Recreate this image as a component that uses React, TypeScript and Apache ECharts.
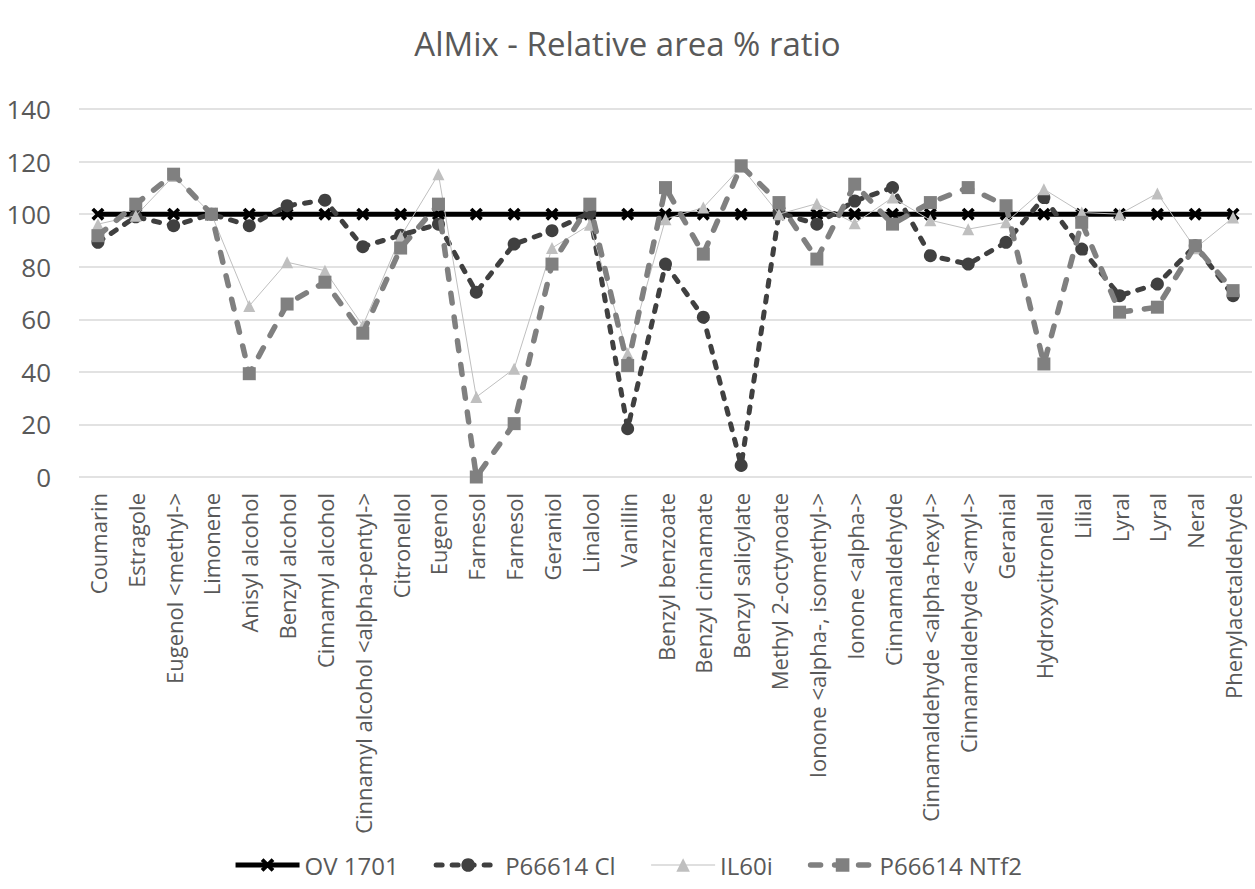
import { useEffect, useRef } from "react";
import * as echarts from "echarts";

const categories = [
  "Coumarin", "Estragole", "Eugenol <methyl->", "Limonene", "Anisyl alcohol",
  "Benzyl alcohol", "Cinnamyl alcohol", "Cinnamyl alcohol <alpha-pentyl->", "Citronellol", "Eugenol",
  "Farnesol", "Farnesol", "Geraniol", "Linalool", "Vanillin",
  "Benzyl benzoate", "Benzyl cinnamate", "Benzyl salicylate", "Methyl 2-octynoate", "Ionone <alpha-, isomethyl->",
  "Ionone <alpha->", "Cinnamaldehyde", "Cinnamaldehyde <alpha-hexyl->", "Cinnamaldehyde <amyl->", "Geranial",
  "Hydroxycitronellal", "Lilial", "Lyral", "Lyral", "Neral",
  "Phenylacetaldehyde",
];

const ov1701 = [
  100, 100, 100, 100, 100, 100, 100, 100, 100, 100,
  100, 100, 100, 100, 100, 100, 100, 100, 100, 100,
  100, 100, 100, 100, 100, 100, 100, 100, 100, 100,
  100,
];

const p66614Cl = [
  89.3, 99, 95.6, 100, 95.6, 103.2, 105.3, 87.6, 92, 96.2,
  70.3, 88.6, 93.7, 100.5, 18.4, 81, 60.8, 4.4, 100.5, 96.2,
  105, 110.1, 84.2, 81, 89.3, 106.3, 86.7, 69, 73.4, 88,
  69,
];

const il60i = [
  96.2, 99.4, 114.5, 100, 65.1, 81.7, 78.5, 57.6, 91.4, 115.2,
  30.4, 41.2, 87.1, 96, 47, 98.1, 102.5, 118, 100, 104,
  96.5, 106.3, 97.7, 94.3, 96.9, 109.5, 100.6, 100, 107.9, 87,
  98.7,
];

const p66614NTf2 = [
  91.8, 103.8, 115.2, 100, 39.3, 65.8, 74.1, 54.7, 87.1, 103.8,
  0, 20.3, 81, 103.8, 42.4, 110.1, 84.8, 118.4, 104.4, 82.9,
  111.4, 96.2, 104.4, 110.1, 103.2, 43, 96.9, 62.7, 64.6, 88,
  70.9,
];

const FONT = "'Open Sans', sans-serif";
const CROSS = "path://M0,2 L2,0 L5,3 L8,0 L10,2 L7,5 L10,8 L8,10 L5,7 L2,10 L0,8 L3,5 Z";

const App = () => {
  const chartRef = useRef<HTMLDivElement>(null);

  useEffect(() => {
    if (!chartRef.current) return;
    const myChart = echarts.init(chartRef.current, undefined, { renderer: "svg" });
    myChart.setOption({
      animation: false,
      backgroundColor: "#ffffff",
      textStyle: { fontFamily: FONT },
      title: {
        text: "AlMix - Relative area % ratio",
        left: "center",
        top: 22,
        textStyle: { fontSize: 33, fontWeight: "normal", color: "#595959", fontFamily: FONT },
      },
      legend: {
        bottom: 7,
        left: "center",
        itemWidth: 64,
        itemHeight: 17,
        itemGap: 35,
        textStyle: { fontSize: 24, color: "#595959", fontFamily: FONT },
        data: [
          { name: "OV 1701", lineStyle: { width: 5 } },
          { name: "P66614 Cl", lineStyle: { width: 5 } },
          { name: "IL60i", lineStyle: { width: 1 } },
          { name: "P66614 NTf2", lineStyle: { width: 5.5 } },
        ],
      },
      grid: { left: 79, right: 3, top: 109, bottom: 412, containLabel: false },
      xAxis: {
        type: "category",
        data: categories,
        boundaryGap: true,
        axisLine: { show: false },
        axisTick: { show: false },
        axisLabel: {
          rotate: 90,
          interval: 0,
          margin: 16,
          fontSize: 22,
          color: "#595959",
          fontFamily: FONT,
        },
      },
      yAxis: {
        type: "value",
        min: 0,
        max: 140,
        interval: 20,
        axisLine: { show: false },
        axisTick: { show: false },
        axisLabel: { fontSize: 26, color: "#595959", margin: 28, fontFamily: FONT },
        splitLine: { lineStyle: { color: "#d9d9d9", width: 1.5 } },
      },
      series: [
        {
          name: "OV 1701",
          type: "line",
          data: ov1701,
          symbol: CROSS,
          symbolSize: 13,
          itemStyle: { color: "#000000" },
          lineStyle: { color: "#000000", width: 5 },
          z: 1,
        },
        {
          name: "P66614 Cl",
          type: "line",
          data: p66614Cl,
          symbol: "circle",
          symbolSize: 13,
          itemStyle: { color: "#404040" },
          lineStyle: { color: "#404040", width: 5, type: [6, 10], cap: "round" },
          z: 2,
        },
        {
          name: "IL60i",
          type: "line",
          data: il60i,
          symbol: "triangle",
          symbolSize: 12,
          itemStyle: { color: "#bfbfbf" },
          lineStyle: { color: "#bfbfbf", width: 1 },
          z: 3,
        },
        {
          name: "P66614 NTf2",
          type: "line",
          data: p66614NTf2,
          symbol: "rect",
          symbolSize: 13,
          itemStyle: { color: "#808080" },
          lineStyle: { color: "#808080", width: 5.5, type: [10, 14], cap: "round" },
          z: 4,
        },
      ],
    });

    return () => {
      myChart.dispose();
    };
  }, []);

  return (
    <div
      ref={chartRef}
      style={{ position: "fixed", left: 0, top: 0, width: "1255px", height: "889px" }}
    ></div>
  );
};

export default App;
